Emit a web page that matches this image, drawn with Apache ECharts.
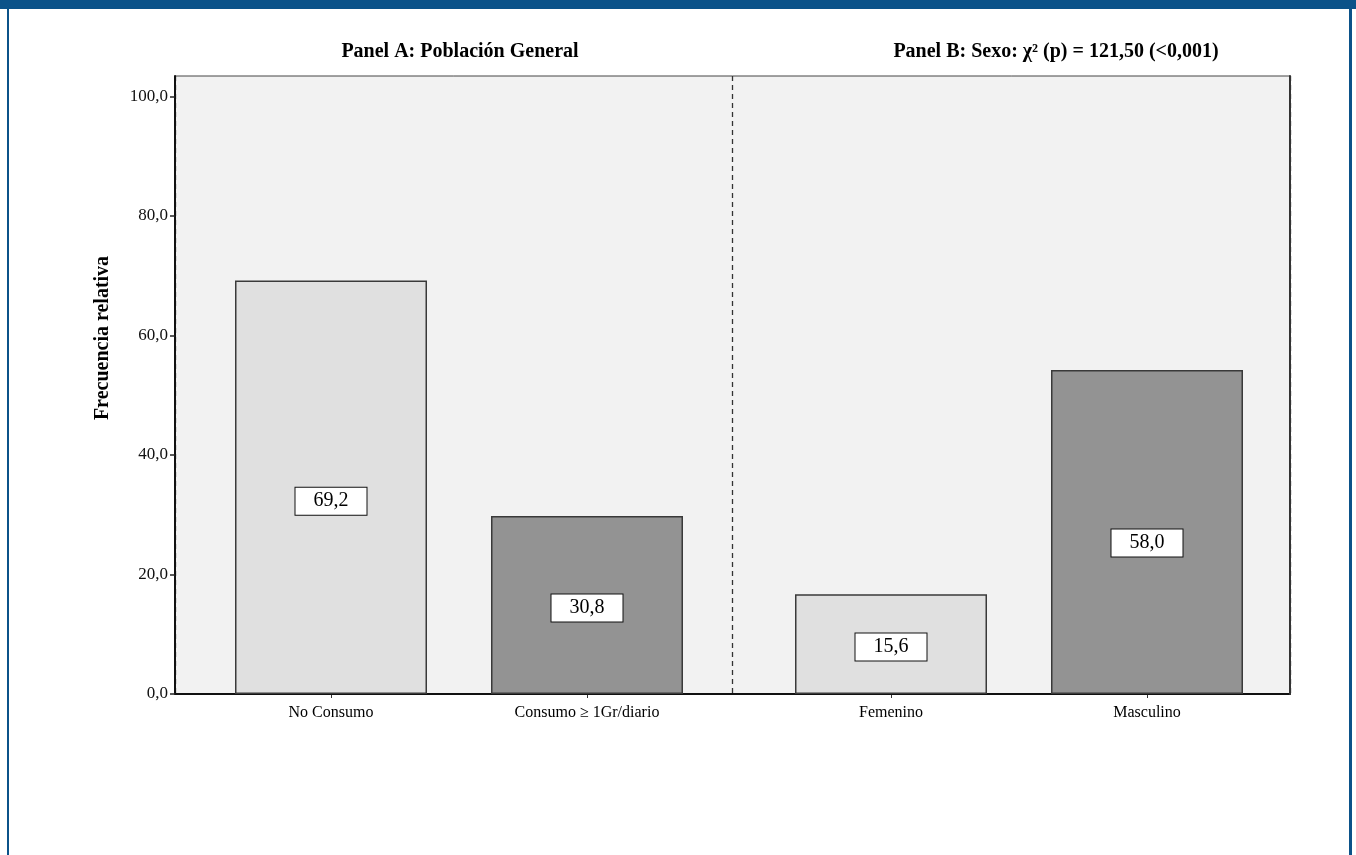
<!DOCTYPE html>
<html>
<head>
<meta charset="utf-8">
<script src="https://cdn.jsdelivr.net/npm/echarts@6/dist/echarts.min.js"></script>
<style>
html,body{margin:0;padding:0;background:#fff;}
#wrap{position:relative;width:1356px;height:855px;overflow:hidden;}
#chart{position:absolute;left:0;top:0;width:1356px;height:855px;}
.fr{position:absolute;background:#0b5289;}
</style>
</head>
<body>
<div id="wrap">
<div id="chart"></div>
<div class="fr" style="left:0;top:0;width:1356px;height:9px;"></div>
<div class="fr" style="left:7px;top:0;width:2px;height:855px;"></div>
<div class="fr" style="left:1349px;top:0;width:3px;height:855px;"></div>
</div>
<script>
// Data
const panelTitles = ['Panel A: Población General', 'Panel B: Sexo: χ² (p) = 121,50 (<0,001)'];
const panelACategories = ['No Consumo', 'Consumo ≥ 1Gr/diario'];
const panelAValues = [69.2, 29.8];
const panelALabels = ['69,2', '30,8'];
const panelBCategories = ['Femenino', 'Masculino'];
const panelBValues = [16.7, 54.2];
const panelBLabels = ['15,6', '58,0'];
const yTicks = [0, 20, 40, 60, 80, 100];
const yName = 'Frecuencia relativa';

// Layout / style
const serif = 'Liberation Serif';
const fills = ['#e0e0e0', '#939393'];
const yMax = 103.4;
const panelALabelShift = [14, 3];
const panelBLabelShift = [3, 11];

function fmt(v){ return v.toFixed(1).replace('.', ','); }

function barSeries(idx, values, labels, shifts){
  return {
    type: 'bar',
    xAxisIndex: idx, yAxisIndex: idx,
    barWidth: 192,
    data: values.map((v, i) => ({value: v, itemStyle: {color: fills[i]}, label: {offset: [0, shifts[i]]}})),
    itemStyle: {borderColor: '#3a3a3a', borderWidth: 1.5},
    label: {
      show: true, position: 'inside',
      formatter: p => labels[p.dataIndex],
      backgroundColor: '#fff', borderColor: '#111', borderWidth: 1,
      padding: [4, 18, 3, 18],
      fontFamily: serif, fontSize: 20, color: '#000'
    },
    silent: true, animation: false
  };
}

const chart = echarts.init(document.getElementById('chart'), null, {renderer: 'canvas'});
chart.setOption({
  backgroundColor: '#fff',
  animation: false,
  title: [
    {text: panelTitles[0], left: 455, top: 37, textAlign: 'center',
     textStyle: {fontFamily: serif, fontWeight: 'bold', fontSize: 20, color: '#000'}},
    {text: panelTitles[1], left: 1051, top: 37, textAlign: 'center',
     textStyle: {fontFamily: serif, fontWeight: 'bold', fontSize: 20, color: '#000'}}
  ],
  grid: [
    {left: 175, width: 1115, top: 76, height: 618, show: true, backgroundColor: '#f2f2f2',
     borderColor: '#444', borderWidth: 1, z: 0},
    {left: 203, width: 512, top: 76, height: 618, z: 2},
    {left: 763, width: 512, top: 76, height: 618, z: 2}
  ],
  xAxis: [
    {gridIndex: 0, type: 'category', data: ['A', 'B'], boundaryGap: true, z: 1,
     axisLine: {show: true, lineStyle: {color: '#111', width: 2}},
     axisTick: {show: false}, axisLabel: {show: false},
     splitLine: {show: true, interval: 0, lineStyle: {color: '#333', type: [5, 4], width: 1.3}}},
    {gridIndex: 1, type: 'category', data: panelACategories,
     axisLine: {show: false},
     axisTick: {show: true, alignWithLabel: true, length: 4, lineStyle: {color: '#333'}},
     axisLabel: {fontFamily: serif, fontSize: 16, color: '#000', margin: 11}},
    {gridIndex: 2, type: 'category', data: panelBCategories,
     axisLine: {show: false},
     axisTick: {show: true, alignWithLabel: true, length: 4, lineStyle: {color: '#333'}},
     axisLabel: {fontFamily: serif, fontSize: 16, color: '#000', margin: 11}}
  ],
  yAxis: [
    {gridIndex: 0, type: 'value', min: 0, max: yMax, interval: 20, z: 5,
     name: yName, nameLocation: 'middle', nameGap: 62, nameRotate: 90,
     nameTextStyle: {fontFamily: serif, fontWeight: 'bold', fontSize: 20, color: '#000', padding: [0, 0, 0, 94]},
     axisLine: {show: true, lineStyle: {color: '#111', width: 2}},
     axisTick: {show: true, length: 5, customValues: yTicks, lineStyle: {color: '#222', width: 1.5}},
     axisLabel: {customValues: yTicks, formatter: v => fmt(v), fontFamily: serif, fontSize: 17, color: '#111', margin: 7},
     splitLine: {show: false}},
    {gridIndex: 1, type: 'value', min: 0, max: yMax, show: false, splitLine: {show: false}},
    {gridIndex: 2, type: 'value', min: 0, max: yMax, show: false, splitLine: {show: false}},
    {gridIndex: 0, type: 'value', min: 0, max: yMax, position: 'right', z: 10,
     axisLine: {show: true, lineStyle: {color: '#333', width: 2}},
     axisTick: {show: false}, axisLabel: {show: false}, splitLine: {show: false}}
  ],
  series: [
    barSeries(1, panelAValues, panelALabels, panelALabelShift),
    barSeries(2, panelBValues, panelBLabels, panelBLabelShift)
  ]
});
</script>
</body>
</html>
